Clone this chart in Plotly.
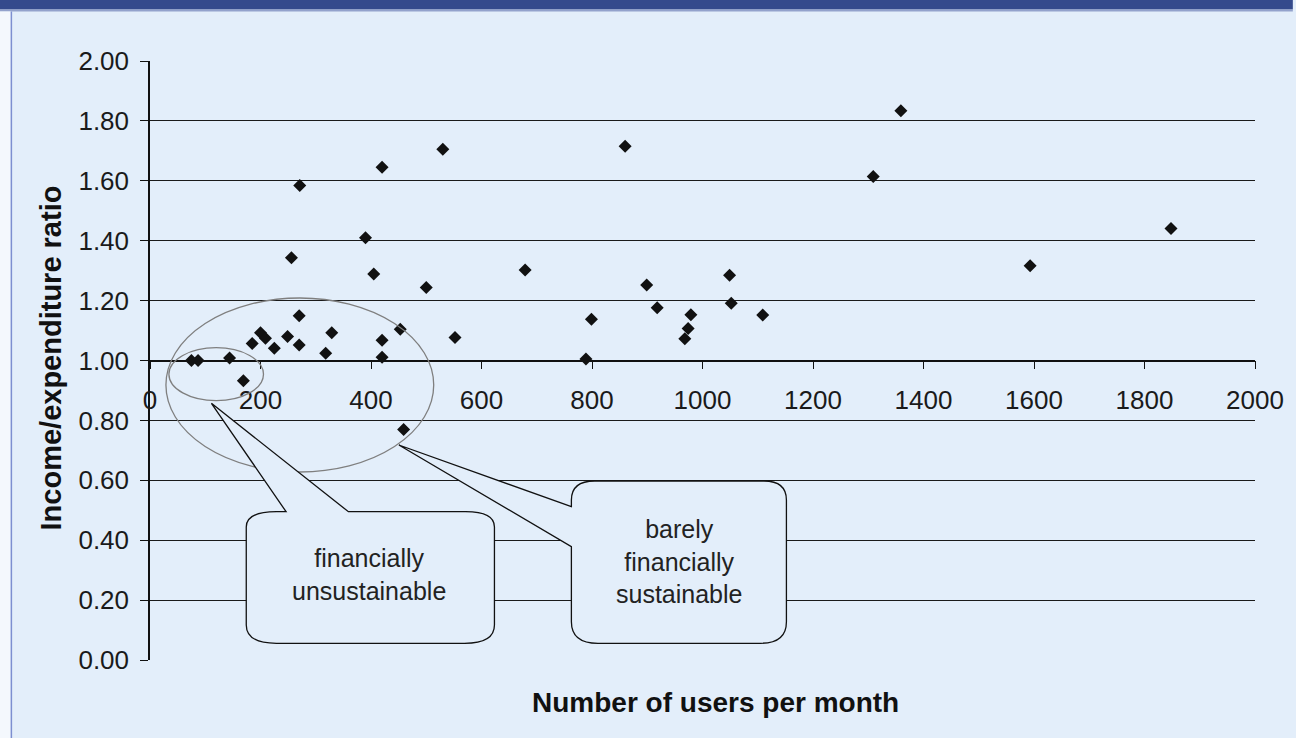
import plotly.graph_objects as go

# ---- data ----
users = [75, 87, 144, 169, 185, 200, 209, 225, 249, 256, 270, 270, 271, 318, 329,
         390, 405, 420, 420, 420, 453, 459, 500, 530, 552, 679, 789, 799, 860,
         899, 918, 968, 974, 979, 1049, 1052, 1109, 1309, 1359, 1593, 1848]
ratio = [1.00, 1.00, 1.008, 0.932, 1.057, 1.093, 1.074, 1.041, 1.080, 1.343, 1.052,
         1.149, 1.584, 1.024, 1.093, 1.41, 1.289, 1.068, 1.011, 1.645, 1.104, 0.770,
         1.244, 1.705, 1.077, 1.302, 1.005, 1.138, 1.715, 1.252, 1.176, 1.073, 1.107,
         1.153, 1.285, 1.191, 1.152, 1.614, 1.834, 1.316, 1.441]
x_ticks = list(range(0, 2001, 200))
y_ticks = [round(i * 0.2, 1) for i in range(11)]
x_title = "Number of users per month"
y_title = "Income/expenditure ratio"
callout1 = "financially<br>unsustainable"
callout2 = "barely<br>financially<br>sustainable"

W, H = 1296, 738
L, R, T, B = 150, 36, 61, 78
PW, PH = W - L - R, H - T - B
BG = "#E3EEFA"
FONT = "Liberation Sans, Arial, sans-serif"


def X(px):
    return (px - L) * 2000 / PW


def Y(py):
    return (H - B - py) * 2 / PH


def PX(px):
    return (px - L) / PW


def PY(py):
    return (H - B - py) / PH


fig = go.Figure()
fig.add_trace(go.Scatter(
    x=users, y=ratio, mode="markers",
    marker=dict(symbol="diamond", size=10, color="#111111", line=dict(width=0)),
    showlegend=False, hoverinfo="skip"))


def P(px, py):
    return f"{X(px):.3f},{Y(py):.4f}"


c1 = " ".join([
    "M", P(286.7, 511.7), "L", P(211.7, 403.3), "L", P(349.3, 511.7),
    "L", P(467, 511.7), "Q", P(496, 511.7), P(496, 527),
    "L", P(496, 625), "Q", P(496, 643.3), P(466, 643.3),
    "L", P(277, 643.3), "Q", P(246.7, 643.3), P(246.7, 625),
    "L", P(246.7, 527), "Q", P(246.7, 511.7), P(277, 511.7), "Z"])

c2 = " ".join([
    "M", P(573.3, 506.7), "L", P(400, 445), "L", P(573.3, 546.7),
    "L", P(573.3, 621.7), "Q", P(573.3, 643.3), P(600, 643.3),
    "L", P(763.3, 643.3), "Q", P(789.3, 643.3), P(789.3, 621.7),
    "L", P(789.3, 500), "Q", P(789.3, 481), P(766.7, 481),
    "L", P(596.7, 481), "Q", P(573.3, 481), P(573.3, 500), "Z"])

shapes = [
    dict(type="rect", xref="paper", yref="paper", x0=PX(-2), x1=PX(W + 2), y0=PY(-2), y1=PY(9.5),
         fillcolor="#344A8C", line=dict(width=0), layer="above"),
    dict(type="rect", xref="paper", yref="paper", x0=PX(-2), x1=PX(W + 2), y0=PY(9.5), y1=PY(11.5),
         fillcolor="#93A2CC", line=dict(width=0), layer="above"),
    dict(type="rect", xref="paper", yref="paper", x0=PX(-2), x1=PX(10), y0=PY(11.5), y1=PY(H + 2),
         fillcolor="#F4F8FD", line=dict(width=0), layer="above"),
    dict(type="rect", xref="paper", yref="paper", x0=PX(10), x1=PX(11.5), y0=PY(11.5), y1=PY(H + 2),
         fillcolor="#7D8FD0", line=dict(width=0), layer="above"),
    dict(type="circle", xref="x", yref="y", x0=X(166), x1=X(435), y0=Y(472), y1=Y(298),
         line=dict(color="#7f7f7f", width=1.3)),
    dict(type="circle", xref="x", yref="y", x0=X(169), x1=X(264), y0=Y(400.7), y1=Y(347.7),
         line=dict(color="#7f7f7f", width=1.3)),
    dict(type="path", xref="x", yref="y", path=c1, fillcolor=BG,
         line=dict(color="#111111", width=1.3)),
    dict(type="path", xref="x", yref="y", path=c2, fillcolor=BG,
         line=dict(color="#111111", width=1.3)),
]

annotations = [
    dict(x=X(370), y=Y(574), xref="x", yref="y", text=callout1, showarrow=False,
         xanchor="center", yanchor="middle",
         font=dict(family=FONT, size=25, color="#222222"), align="center"),
    dict(x=X(681.5), y=Y(561), xref="x", yref="y", text=callout2, showarrow=False,
         xanchor="center", yanchor="middle",
         font=dict(family=FONT, size=25, color="#222222"), align="center"),
    dict(x=PX(718), y=PY(702), xref="paper", yref="paper", text="<b>" + x_title + "</b>",
         xanchor="center", yanchor="middle",
         showarrow=False, font=dict(family=FONT, size=28, color="#111111")),
    dict(x=PX(51), y=PY(358), xref="paper", yref="paper", text="<b>" + y_title + "</b>",
         xanchor="center", yanchor="middle",
         textangle=-90, showarrow=False, font=dict(family=FONT, size=29, color="#111111")),
]

fig.update_layout(
    width=W, height=H,
    margin=dict(l=L, r=R, t=T, b=B, pad=0),
    paper_bgcolor=BG, plot_bgcolor=BG,
    font=dict(family=FONT, size=26, color="#1a1a1a"),
    shapes=shapes, annotations=annotations,
    xaxis=dict(range=[0, 2000], tickvals=x_ticks, ticktext=[str(v) for v in x_ticks],
               anchor="free", position=0.5, showline=True, linecolor="#111111",
               linewidth=1.5, ticks="outside", ticklen=8, tickwidth=1.3,
               tickcolor="#111111", showgrid=False, zeroline=False,
               ticklabelstandoff=9,
               tickfont=dict(family=FONT, size=26, color="#1a1a1a")),
    yaxis=dict(range=[0, 2], tickvals=y_ticks, tickformat=".2f", showline=True,
               linecolor="#111111", linewidth=1.5, ticks="outside", ticklen=8,
               tickwidth=1.3, tickcolor="#111111", showgrid=True,
               gridcolor="#1a1a1a", gridwidth=1.4, zeroline=False,
               ticklabelstandoff=6,
               tickfont=dict(family=FONT, size=26, color="#1a1a1a")),
)

fig.write_html("out.html")
